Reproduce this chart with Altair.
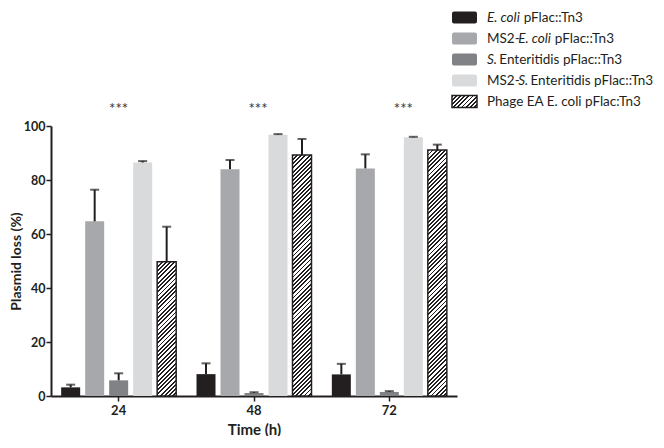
import altair as alt
import pandas as pd

times = ["24", "48", "72"]
series = [
    "E. coli pFlac::Tn3",
    "MS2-E. coli pFlac::Tn3",
    "S. Enteritidis pFlac::Tn3",
    "MS2-S. Enteritidis pFlac::Tn3",
    "Phage EA E. coli pFlac:Tn3",
]
colors = ["#231f20", "#a6a8ab", "#808285", "#d9dadb", "#ffffff"]

means = [
    [3.2, 8.1, 8.0],      # E. coli
    [64.7, 84.0, 84.3],   # MS2-E. coli
    [5.8, 1.1, 1.5],      # S. Enteritidis
    [86.5, 96.8, 95.8],   # MS2-S. Enteritidis
    [49.7, 89.3, 91.1],   # Phage EA
]
uppers = [
    [4.2, 12.1, 11.9],
    [76.4, 87.4, 89.5],
    [8.4, 1.4, 1.8],
    [87.0, 97.0, 96.0],
    [62.7, 95.2, 93.1],
]
sig_labels = ["***", "***", "***"]

# legend label segments (text, italic)
legend_segments = [
    [("E. coli", True), (" pFlac::Tn3", False)],
    [("MS2-", False), ("E. coli", True), (" pFlac::Tn3", False)],
    [("S.", True), (" Enteritidis pFlac::Tn3", False)],
    [("MS2-", False), ("S.", True), (" Enteritidis pFlac::Tn3", False)],
    [("Phage EA E. coli pFlac:Tn3", False)],
]

rows = []
for si, s in enumerate(series):
    for ti, t in enumerate(times):
        rows.append({"time": t, "series": s, "value": means[si][ti], "upper": uppers[si][ti]})
df = pd.DataFrame(rows)

FONT = "Lato"
INK = "#231f20"
W, H = 406, 270
PX_PER_UNIT = H / 100.0
BAR_W = 19.0
LEG_FS = 13.5

# approximate Lato advance widths (em) for legend text chaining
_cw = {
    " ": .193, ".": .23, ":": .24, "-": .38, "2": .58, "3": .58,
    "E": .56, "M": .86, "S": .49, "F": .51, "T": .55, "P": .59, "A": .68,
    "a": .50, "c": .47, "d": .57, "e": .53, "g": .51, "h": .56, "i": .25,
    "l": .25, "n": .56, "o": .57, "p": .56, "r": .37, "s": .42, "t": .36,
}

def text_w(s, fs):
    return sum(_cw.get(ch, .55) for ch in s) * fs

def hatch(w, h, period=4.2, frac=0.45):
    r = w / h
    b = (1 + r) / (1 + r * r)
    a = r * b
    n = max(1, int(round((w + h) / period)))
    stops = []
    for i in range(n):
        s0 = i / n
        s1 = (i + frac) / n
        s2 = (i + 1) / n
        stops += [
            alt.GradientStop(color=INK, offset=s0),
            alt.GradientStop(color=INK, offset=s1),
            alt.GradientStop(color="#ffffff", offset=s1),
            alt.GradientStop(color="#ffffff", offset=s2),
        ]
    return alt.LinearGradient(gradient="linear", stops=stops, x1=0, y1=0, x2=a, y2=b)

x_enc = alt.X(
    "time:N",
    sort=times,
    scale=alt.Scale(paddingInner=0, paddingOuter=0),
    axis=alt.Axis(
        title="Time (h)", labelAngle=0, domainColor=INK, domainWidth=2,
        tickColor=INK, tickWidth=1.5, tickSize=5, labelPadding=3,
        labelFont=FONT, labelFontWeight="bold", labelFontSize=13, labelColor=INK,
        titleFont=FONT, titleFontWeight="bold", titleFontSize=15, titleColor=INK,
        titlePadding=5,
    ),
)
xo_enc = alt.XOffset(
    "series:N", sort=series,
    scale=alt.Scale(domain=series, paddingInner=0.208, paddingOuter=0.4235),
)
y_enc = alt.Y(
    "value:Q",
    scale=alt.Scale(domain=[0, 100], nice=False),
    axis=alt.Axis(
        title="Plasmid loss (%)", values=[0, 20, 40, 60, 80, 100], grid=False,
        domainColor=INK, domainWidth=2, tickColor=INK, tickWidth=1.5, tickSize=5,
        labelPadding=1, labelFont=FONT, labelFontWeight="bold", labelFontSize=12.5,
        labelColor=INK, titleFont=FONT, titleFontWeight="bold", titleFontSize=14,
        titleColor=INK, titlePadding=0,
    ),
)

base = alt.Chart(df)

bars = base.transform_filter(alt.datum.series != series[4]).mark_bar().encode(
    x=x_enc, xOffset=xo_enc, y=y_enc,
    color=alt.Color("series:N", scale=alt.Scale(domain=series, range=colors), legend=None),
)

layers = [bars]
for ti, t in enumerate(times):
    h = means[4][ti] * PX_PER_UNIT
    layers.append(
        base.transform_filter((alt.datum.series == series[4]) & (alt.datum.time == t))
        .mark_bar(fill=hatch(BAR_W, h), stroke=INK, strokeWidth=1.5)
        .encode(x=x_enc, xOffset=xo_enc, y=y_enc)
    )

err = base.mark_rule(color=INK, strokeWidth=2).encode(
    x=x_enc, xOffset=xo_enc, y=y_enc, y2="upper:Q"
)
caps = base.mark_tick(color=INK, thickness=2, size=9, orient="horizontal").encode(
    x=x_enc, xOffset=xo_enc, y=alt.Y("upper:Q")
)
layers += [err, caps]

# significance marks
sig_df = pd.DataFrame({"time": times, "label": sig_labels})
sig_dx = [0, 4, 14]
for ti, t in enumerate(times):
    layers.append(
        alt.Chart(sig_df).transform_filter(alt.datum.time == t)
        .mark_text(font=FONT, fontSize=15, color="#333333", dx=sig_dx[ti], baseline="middle")
        .encode(x=alt.X("time:N", sort=times), y=alt.value(-17), text="label:N")
    )

# legend (manual, to allow mixed italic text and hatched swatch)
one = pd.DataFrame({"a": [0]})
LX0 = 452 - 51
LX1 = 477 - 51
TX0 = 487 - 51
row_centers = [17.5, 38.5, 59.5, 80.5, 101.5]
for ri, yc in enumerate(row_centers):
    py = yc - 126
    if ri < 4:
        sw = alt.Chart(one).mark_rect(color=colors[ri], cornerRadius=2)
    else:
        sw = alt.Chart(one).mark_rect(fill=hatch(25, 12, period=4.2), stroke=INK, strokeWidth=1.5)
    layers.append(sw.encode(
        x=alt.value(LX0), x2=alt.value(LX1), y=alt.value(py - 6), y2=alt.value(py + 6)
    ))
    cx = TX0
    for txt, ital in legend_segments[ri]:
        lead = len(txt) - len(txt.lstrip(" "))
        cx += text_w(" " * lead, LEG_FS)
        core = txt.strip(" ")
        layers.append(
            alt.Chart(one).mark_text(
                align="left", baseline="middle", font=FONT, fontSize=LEG_FS,
                fontStyle="italic" if ital else "normal", color=INK,
            ).encode(x=alt.value(cx), y=alt.value(py), text=alt.value(core))
        )
        cx += text_w(core, LEG_FS)

chart = alt.layer(*layers).properties(
    width=W, height=H,
    autosize=alt.AutoSizeParams(type="none"),
    padding={"left": 43, "top": 118, "right": 199, "bottom": 40},
).configure_view(stroke=None)

chart.save("out.html", embed_options={"renderer": "svg", "actions": False})
